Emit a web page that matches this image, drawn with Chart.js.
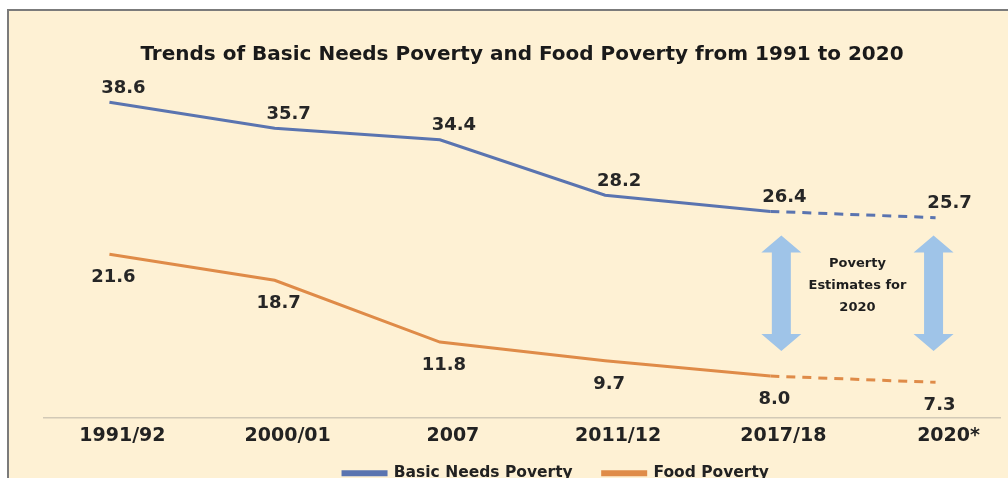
<!DOCTYPE html>
<html>
<head>
<meta charset="utf-8">
<script src="https://cdn.jsdelivr.net/npm/chart.js@4.4.1/dist/chart.umd.min.js"></script>
<style>
  html, body { margin: 0; padding: 0; overflow: hidden; background: #fff; }
  #frame {
    position: absolute; left: 7px; top: 9px; width: 1010px; height: 520px;
    background: #fef1d4; border-left: 2px solid #7b7b7b; border-top: 2px solid #7b7b7b;
  }
  #wrap { position: absolute; left: 0; top: 0; width: 1008px; height: 511px; }
</style>
</head>
<body>
<div id="frame"></div>
<div id="wrap"><canvas id="povertyChart"></canvas></div>
<script>
const periods = ['1991/92', '2000/01', '2007', '2011/12', '2017/18', '2020*'];
const basicNeeds = [38.6, 35.7, 34.4, 28.2, 26.4, 25.7];
const foodPoverty = [21.6, 18.7, 11.8, 9.7, 8.0, 7.3];
// the last segment (2017/18 -> 2020*) is an estimate, drawn dashed
const estimateFrom = 4;
const estimateSpan = [23.7, 10.8];
const estimateNote = ['Poverty', 'Estimates for', '2020'];

const FONT = 'DejaVu Sans';
const blue = '#5a74b0';
const orange = '#df8b48';

const toPoints = arr => arr.map((v, i) => ({ x: i, y: v }));
const dashed = ctx => ctx.p0DataIndex >= estimateFrom ? [9, 7] : undefined;

// value labels next to each point
const valueLabels = {
    id: 'valueLabels',
    afterDatasetsDraw(chart) {
        const c = chart.ctx;
        c.save();
        c.font = 'bold 18px "' + FONT + '"';
        c.fillStyle = '#262626';
        c.textAlign = 'center';
        c.textBaseline = 'middle';
        chart.data.datasets.forEach((ds, di) => {
            const meta = chart.getDatasetMeta(di);
            meta.data.forEach((pt, i) => {
                const dx = di === 0 ? 14 : 4;
                const dy = di === 0 ? -14 : 23;
                c.fillText(ds.data[i].y.toFixed(1), pt.x + dx, pt.y + dy);
            });
        });
        c.restore();
    }
};

// double arrows + note marking the 2020 estimates
const estimateArrows = {
    id: 'estimateArrows',
    beforeDatasetsDraw(chart) {
        const c = chart.ctx;
        const xs = chart.scales.x, ys = chart.scales.y;
        const top = ys.getPixelForValue(estimateSpan[0]);
        const bot = ys.getPixelForValue(estimateSpan[1]);
        const cols = [xs.getPixelForValue(estimateFrom) + 11, xs.getPixelForValue(estimateFrom + 1) - 2];
        const head = 20, shaft = 9.5, hl = 17;
        c.save();
        c.fillStyle = '#9fc4e8';
        cols.forEach(x => {
            c.beginPath();
            c.moveTo(x, top);
            c.lineTo(x + head, top + hl);
            c.lineTo(x + shaft, top + hl);
            c.lineTo(x + shaft, bot - hl);
            c.lineTo(x + head, bot - hl);
            c.lineTo(x, bot);
            c.lineTo(x - head, bot - hl);
            c.lineTo(x - shaft, bot - hl);
            c.lineTo(x - shaft, top + hl);
            c.lineTo(x - head, top + hl);
            c.closePath();
            c.fill();
        });
        c.font = 'bold 13px "' + FONT + '"';
        c.fillStyle = '#1e1e1e';
        c.textAlign = 'center';
        c.textBaseline = 'middle';
        const mx = (cols[0] + cols[1]) / 2;
        const my = (top + bot) / 2 - 8;
        estimateNote.forEach((t, i) => c.fillText(t, mx, my + (i - 1) * 22));
        c.restore();
    }
};

// nudge the legend to the right and up
const legendShift = {
    id: 'legendShift',
    afterLayout(chart) {
        const lg = chart.legend;
        lg.left += 34; lg.right += 34;
        lg.top -= 20; lg.bottom -= 20;
    }
};

new Chart(document.getElementById('povertyChart'), {
    type: 'line',
    data: {
        datasets: [{
            label: 'Basic Needs Poverty',
            data: toPoints(basicNeeds),
            borderColor: blue,
            backgroundColor: blue,
            borderWidth: 3,
            pointRadius: 0,
            segment: { borderDash: dashed },
        }, {
            label: 'Food Poverty',
            data: toPoints(foodPoverty),
            borderColor: orange,
            backgroundColor: orange,
            borderWidth: 3,
            pointRadius: 0,
            segment: { borderDash: dashed },
        }]
    },
    options: {
        responsive: true,
        maintainAspectRatio: false,
        animation: false,
        layout: { padding: { left: 44, right: 8 } },
        scales: {
            x: {
                type: 'linear',
                min: -0.396,
                max: 5.39,
                grid: { display: false, drawTicks: false, tickLength: 0 },
                border: { display: true, color: '#d2c9b6', width: 1.5 },
                ticks: {
                    stepSize: 1,
                    includeBounds: false,
                    padding: 7.6,
                    labelOffset: 13,
                    color: '#222',
                    font: { family: FONT, size: 19, weight: 'bold' },
                    callback: v => periods[v],
                },
            },
            y: {
                display: false,
                min: 3.37,
                max: 41.75,
            },
        },
        plugins: {
            title: {
                display: true,
                text: 'Trends of Basic Needs Poverty and Food Poverty from 1991 to 2020',
                color: '#1a1a1a',
                font: { family: FONT, size: 20, weight: 'bold' },
                padding: { top: 43, bottom: 7 },
            },
            legend: {
                position: 'bottom',
                labels: {
                    boxWidth: 43,
                    boxHeight: 3,
                    padding: 30,
                    color: '#222',
                    font: { family: FONT, size: 15.5, weight: 'bold' },
                },
            },
            tooltip: { enabled: false },
        },
    },
    plugins: [valueLabels, estimateArrows, legendShift],
});
</script>
</body>
</html>
